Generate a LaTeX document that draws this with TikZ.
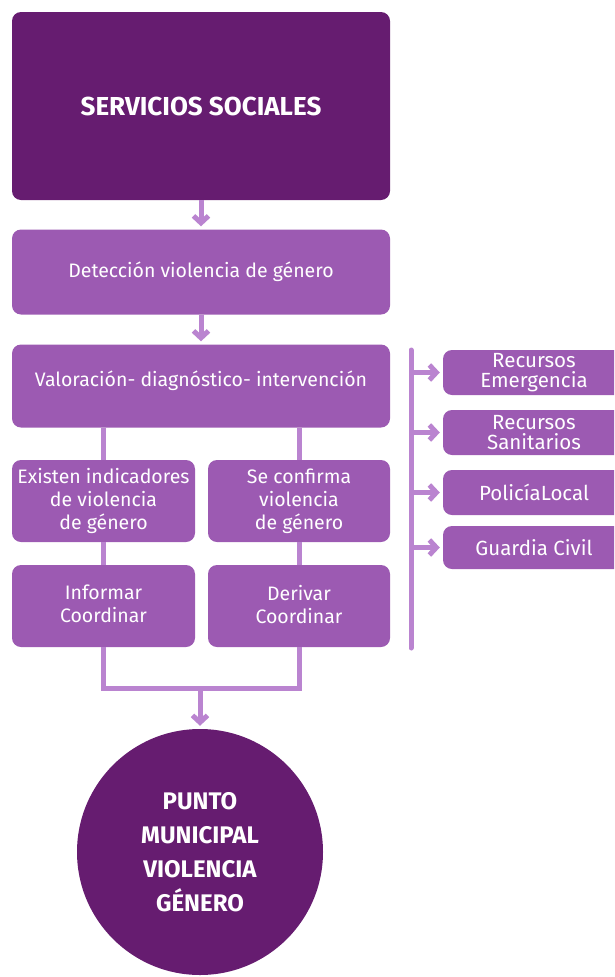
\documentclass[tikz,border=0pt]{standalone}
\usepackage{fontspec}
\setmainfont{Fira Sans}
\usetikzlibrary{arrows.meta}
\definecolor{moradoOsc}{HTML}{661C70}
\definecolor{morado}{HTML}{9C5AB2}
\definecolor{lila}{HTML}{BA84D0}

\begin{document}
\begin{tikzpicture}[x=1pt,y=-1pt,
    caja/.style={fill=morado, rounded corners=9pt, text=white, align=center, inner sep=0pt,
      font=\fontsize{19.5}{23}\selectfont},
    cajaosc/.style={caja, fill=moradoOsc, font=\fontsize{26}{30}\selectfont\bfseries},
    cajader/.style={caja, minimum width=182, minimum height=45, font=\fontsize{20.5}{20}\selectfont},
    linea/.style={draw=lila, line width=5pt},
    flecha/.style={linea, shorten >=3pt, -{Straight Barb[length=7pt,width=15pt,line width=5pt]}}]
  \useasboundingbox (0,0) rectangle (614,977);
  \clip (0,0) rectangle (614,977);

  % columna principal
  \node[cajaosc, minimum width=378, minimum height=188] (servicios) at (201,106) {SERVICIOS SOCIALES};
  \node[caja, minimum width=378, minimum height=85] (deteccion) at (201,272) {Detección violencia de género};
  \node[caja, minimum width=378, minimum height=83, text depth=14pt] (valoracion) at (201,386) {Valoración- diagnóstico- intervención};
  \node[caja, minimum width=183, minimum height=82] (existen) at (103.5,501) {Existen indicadores\\de violencia\\de género};
  \node[caja, minimum width=182, minimum height=82] (confirma) at (299,501) {Se confirma\\violencia\\de género};
  \node[caja, minimum width=183, minimum height=82, text depth=4pt] (informar) at (103.5,606) {Informar\\Coordinar};
  \node[caja, minimum width=182, minimum height=82, text depth=4pt] (derivar) at (299,606) {Derivar\\Coordinar};
  \node[circle, fill=moradoOsc, minimum size=246, inner sep=0pt, text=white, align=center,
    font=\fontsize{24}{34}\selectfont\bfseries] (punto) at (200,852) {PUNTO\\MUNICIPAL\\VIOLENCIA\\GÉNERO};

  \draw[flecha] (servicios) -- (deteccion);
  \draw[flecha] (deteccion) -- (valoracion);
  \draw[linea] (valoracion.south -| existen.north) -- (existen.north);
  \draw[linea] (existen.south) -- (informar.north);
  \draw[linea] (valoracion.south -| confirma.north) -- (confirma.north);
  \draw[linea] (confirma.south) -- (derivar.north);
  \coordinate (union) at (200,688);
  \draw[linea] (informar.south) |- (union);
  \draw[linea] (derivar.south) |- (union);
  \draw[flecha] (union) -- (punto.north);

  % recursos
  \node[cajader] (emergencia) at (534,372.5) {Recursos\\Emergencia};
  \node[cajader] (sanitarios) at (534,432.5) {Recursos\\Sanitarios};
  \node[cajader] (policia) at (534,492.5) {PolicíaLocal};
  \node[cajader, minimum height=43] (guardia) at (534,547.5) {Guardia Civil};
  \coordinate (busA) at (411,350);
  \coordinate (busB) at (411,648);
  \draw[linea, line cap=round] (busA) -- (busB);
  \foreach \n in {emergencia,sanitarios,policia,guardia}
    \draw[flecha] (busA |- \n.west) -- (\n.west);
\end{tikzpicture}
\end{document}
